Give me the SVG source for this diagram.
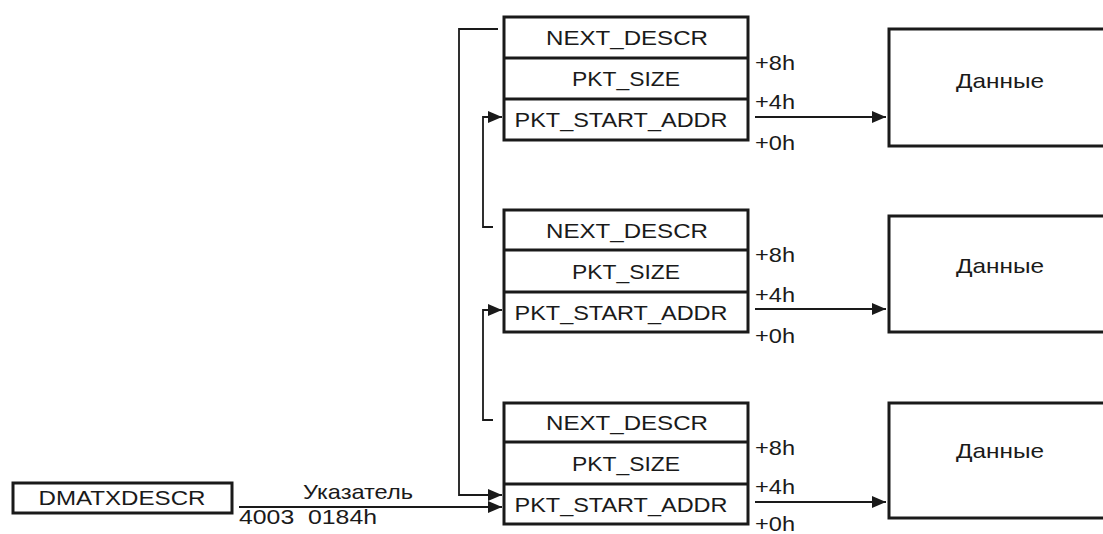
<svg xmlns="http://www.w3.org/2000/svg" width="1103" height="534" viewBox="0 0 1103 534">
<style>
.box{fill:#fff;stroke:#1a1a1a;stroke-width:3}
.div{stroke:#1a1a1a;stroke-width:3}
.ln{fill:none;stroke:#1a1a1a;stroke-width:1.8}
text{font-family:"Liberation Sans",Arial,sans-serif;font-size:21px;fill:#1a1a1a}
.c{text-anchor:middle}
</style>
<defs>
<marker id="ah" markerUnits="userSpaceOnUse" markerWidth="15" markerHeight="12" refX="14" refY="6" orient="auto">
<path d="M0,0 L14,6 L0,12 Z" fill="#1a1a1a"/>
</marker>
</defs>

<g id="connectors">
<path class="ln" d="M498,29 H459 V495 H502" marker-end="url(#ah)"/>
<path class="ln" d="M493,227 H483 V117 H502" marker-end="url(#ah)"/>
<path class="ln" d="M493,420 H483 V310 H502" marker-end="url(#ah)"/>
<path class="ln" d="M239,507 H502" marker-end="url(#ah)"/>
<path class="ln" d="M755,117 H886" marker-end="url(#ah)"/>
<path class="ln" d="M755,309 H886" marker-end="url(#ah)"/>
<path class="ln" d="M755,502 H886" marker-end="url(#ah)"/>
<text class="c" x="358" y="499" textLength="110" lengthAdjust="spacingAndGlyphs">Указатель</text>
<text x="239" y="524" textLength="138" lengthAdjust="spacingAndGlyphs" xml:space="preserve">4003  0184h</text>
</g>

<g id="dmatxdescr">
<rect class="box" x="13" y="483" width="219" height="30"/>
<text class="c" x="122" y="505" textLength="167" lengthAdjust="spacingAndGlyphs">DMATXDESCR</text>
</g>

<g id="descr1">
<rect class="box" x="504" y="17" width="244" height="123"/>
<line class="div" x1="504" y1="58" x2="748" y2="58"/>
<line class="div" x1="504" y1="99" x2="748" y2="99"/>
<text class="c" x="627" y="45" textLength="162" lengthAdjust="spacingAndGlyphs">NEXT_DESCR</text>
<text class="c" x="626" y="86" textLength="108" lengthAdjust="spacingAndGlyphs">PKT_SIZE</text>
<text class="c" x="621" y="127" textLength="213" lengthAdjust="spacingAndGlyphs">PKT_START_ADDR</text>
<text x="755" y="70" textLength="40" lengthAdjust="spacingAndGlyphs">+8h</text>
<text x="755" y="109" textLength="40" lengthAdjust="spacingAndGlyphs">+4h</text>
<text x="755" y="150" textLength="40" lengthAdjust="spacingAndGlyphs">+0h</text>
</g>

<g id="descr2">
<rect class="box" x="504" y="210" width="244" height="122"/>
<line class="div" x1="504" y1="250" x2="748" y2="250"/>
<line class="div" x1="504" y1="292" x2="748" y2="292"/>
<text class="c" x="627" y="238" textLength="162" lengthAdjust="spacingAndGlyphs">NEXT_DESCR</text>
<text class="c" x="626" y="279" textLength="108" lengthAdjust="spacingAndGlyphs">PKT_SIZE</text>
<text class="c" x="621" y="320" textLength="213" lengthAdjust="spacingAndGlyphs">PKT_START_ADDR</text>
<text x="755" y="262" textLength="40" lengthAdjust="spacingAndGlyphs">+8h</text>
<text x="755" y="302" textLength="40" lengthAdjust="spacingAndGlyphs">+4h</text>
<text x="755" y="343" textLength="40" lengthAdjust="spacingAndGlyphs">+0h</text>
</g>

<g id="descr3">
<rect class="box" x="504" y="403" width="244" height="121"/>
<line class="div" x1="504" y1="442" x2="748" y2="442"/>
<line class="div" x1="504" y1="484" x2="748" y2="484"/>
<text class="c" x="627" y="430" textLength="162" lengthAdjust="spacingAndGlyphs">NEXT_DESCR</text>
<text class="c" x="626" y="471" textLength="108" lengthAdjust="spacingAndGlyphs">PKT_SIZE</text>
<text class="c" x="621" y="512" textLength="213" lengthAdjust="spacingAndGlyphs">PKT_START_ADDR</text>
<text x="755" y="455" textLength="40" lengthAdjust="spacingAndGlyphs">+8h</text>
<text x="755" y="494" textLength="40" lengthAdjust="spacingAndGlyphs">+4h</text>
<text x="755" y="531" textLength="40" lengthAdjust="spacingAndGlyphs">+0h</text>
</g>

<g id="data1">
<rect class="box" x="889" y="29" width="230" height="117"/>
<text class="c" x="1000" y="88" textLength="88" lengthAdjust="spacingAndGlyphs">Данные</text>
</g>
<g id="data2">
<rect class="box" x="889" y="216" width="230" height="116"/>
<text class="c" x="1000" y="273" textLength="88" lengthAdjust="spacingAndGlyphs">Данные</text>
</g>
<g id="data3">
<rect class="box" x="889" y="403" width="230" height="115"/>
<text class="c" x="1000" y="458" textLength="88" lengthAdjust="spacingAndGlyphs">Данные</text>
</g>
</svg>
